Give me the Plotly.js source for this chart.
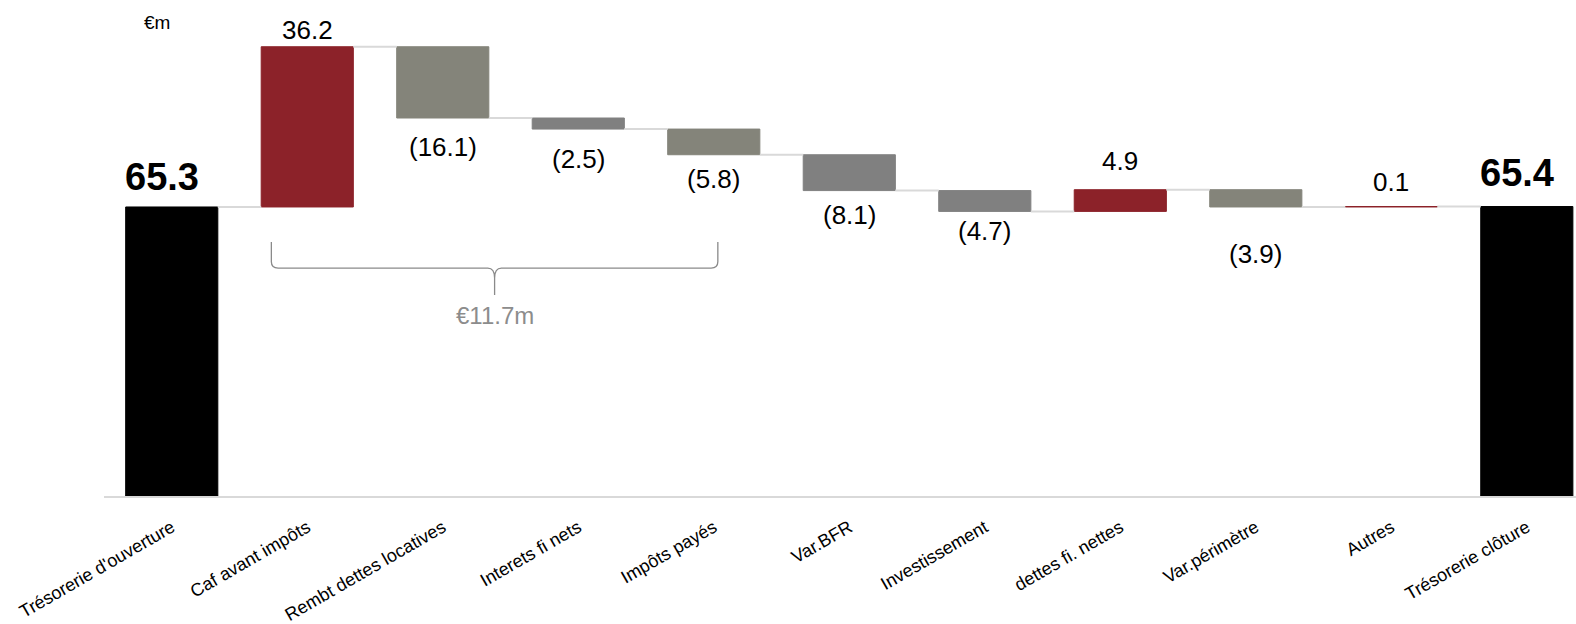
<!DOCTYPE html>
<html>
<head>
<meta charset="utf-8">
<script src="https://cdn.plot.ly/plotly-3.0.1.min.js"></script>
<style>html,body{margin:0;padding:0;background:#fff;}#chart{width:1576px;height:624px;}</style>
</head>
<body>
<div id="chart"></div>
<script>
// ---- data ----
const categories = ["Trésorerie d'ouverture","Caf avant impôts","Rembt dettes locatives","Interets fi nets","Impôts payés","Var.BFR","Investissement","dettes fi. nettes","Var.périmètre","Autres","Trésorerie clôture"];
const values = [65.3, 36.2, -16.1, -2.5, -5.8, -8.1, -4.7, 4.9, -3.9, 0.1, 65.4];
const measures = ["total","relative","relative","relative","relative","relative","relative","relative","relative","relative","total"];
const unitLabel = "€m";
const braceLabel = "€11.7m";

// ---- styles (kept apart from data) ----
const barColors = ["#000000","#8c2229","#84847a","#808080","#84847a","#808080","#808080","#8c2229","#84847a","#8c2229","#000000"];
const labelOffsets = [30, 17, 29, 30, 24, 24, 20, 29, 47, 25, 34]; // px from bar edge to label centre
const barWidth = 0.68;

// ---- compute waterfall geometry ----
const xs = categories.map((c, i) => i);
const bases = [], heights = [], ends = [];
let running = 0;
values.forEach((v, i) => {
  if (measures[i] === "total") { bases.push(0); heights.push(v); running = v; }
  else { bases.push(running); heights.push(v); running += v; }
  ends.push(running);
});

const bars = {
  type: "bar", x: xs, y: heights, base: bases, width: barWidth,
  marker: { color: barColors, line: { color: barColors, width: 1 } },
  hoverinfo: "skip", showlegend: false
};

const cx = [], cy = [];
for (let i = 0; i < values.length - 1; i++) {
  cx.push(i + barWidth / 2, i + 1 - barWidth / 2, null);
  cy.push(ends[i], ends[i], null);
}
const connectors = {
  type: "scatter", mode: "lines", x: cx, y: cy,
  line: { color: "#d9d9d9", width: 2 }, hoverinfo: "skip", showlegend: false
};

function fmt(v) {
  const a = Math.abs(v).toFixed(1);
  return v < 0 ? "(" + a + ")" : a;
}

const annotations = values.map((v, i) => {
  const isTotal = measures[i] === "total";
  const top = bases[i] + heights[i];
  const above = isTotal || v >= 0;
  return {
    x: isTotal ? i - barWidth / 2 : i, y: top, xref: "x", yref: "y",
    text: isTotal ? "<b>" + fmt(v) + "</b>" : fmt(v),
    showarrow: false, xanchor: isTotal ? "left" : "center", yanchor: "middle",
    xshift: isTotal ? -3 : 0,
    yshift: above ? labelOffsets[i] : -labelOffsets[i],
    font: { size: isTotal ? 38 : 26, color: "#000", family: "Liberation Sans, Arial, sans-serif" }
  };
});

// unit label
annotations.push({
  xref: "paper", yref: "paper", x: 0.036, y: 0.975, text: unitLabel, showarrow: false,
  xanchor: "center", yanchor: "middle",
  font: { size: 19, color: "#000", family: "Liberation Sans, Arial, sans-serif" }
});

// brace spanning Caf avant impôts .. Impôts payés
const bL = 0.735, bR = 4.03, bM = (bL + bR) / 2;
const yTop = 57.4, yH = 51.5, yTip = 45.4;
const dx = 0.05, dy = 1.4;
const bracePath =
  `M ${bL},${yTop} L ${bL},${yH + dy} Q ${bL},${yH} ${bL + dx},${yH} ` +
  `L ${bM - dx},${yH} Q ${bM},${yH} ${bM},${yH - dy * 1.6} L ${bM},${yTip} ` +
  `M ${bM},${yH - dy * 1.6} Q ${bM},${yH} ${bM + dx},${yH} ` +
  `L ${bR - dx},${yH} Q ${bR},${yH} ${bR},${yH + dy} L ${bR},${yTop}`;

annotations.push({
  x: bM, y: 40.7, xref: "x", yref: "y", text: braceLabel, showarrow: false,
  xanchor: "center", yanchor: "middle",
  font: { size: 24, color: "#8c8c8c", family: "Liberation Sans, Arial, sans-serif" }
});

const layout = {
  width: 1576, height: 624,
  margin: { l: 104, r: 0, t: 10, b: 128, pad: 0 },
  paper_bgcolor: "#fff", plot_bgcolor: "#fff",
  font: { family: "Liberation Sans, Arial, sans-serif", color: "#000" },
  xaxis: {
    type: "linear", range: [-0.5, 10.363], tickmode: "array", tickvals: xs, ticktext: categories,
    tickangle: -30, tickfont: { size: 18, color: "#000" }, ticklabelstandoff: 12,
    showline: true, linecolor: "#d9d9d9", linewidth: 2,
    showgrid: false, zeroline: false, ticks: "", fixedrange: true
  },
  yaxis: { range: [0, 109.8], visible: false, showgrid: false, zeroline: false, fixedrange: true },
  shapes: [{ type: "path", xref: "x", yref: "y", path: bracePath, line: { color: "#8a8a8a", width: 1.3 } }],
  annotations: annotations,
  showlegend: false
};

Plotly.newPlot("chart", [bars, connectors], layout, { displayModeBar: false, staticPlot: true });
</script>
</body>
</html>
